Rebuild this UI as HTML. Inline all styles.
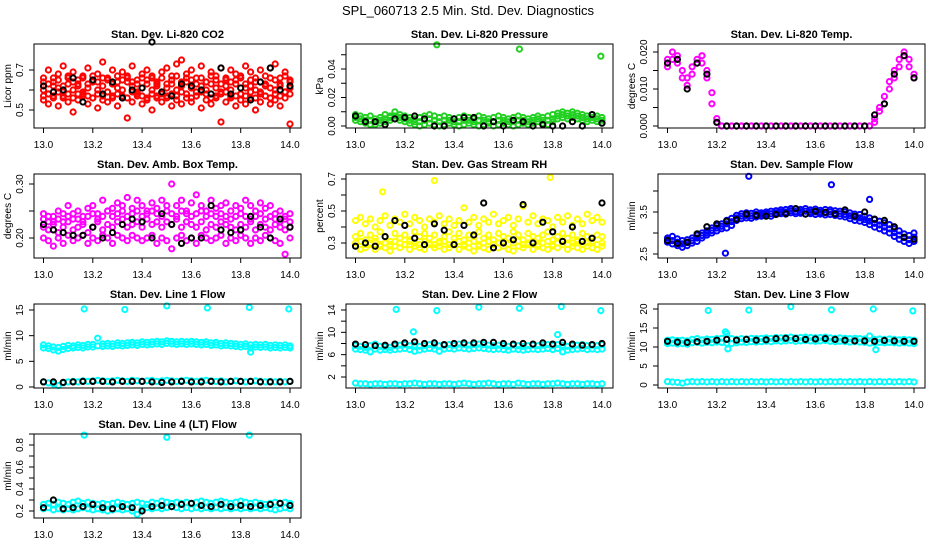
<!DOCTYPE html>
<html><head><meta charset="utf-8"><style>
html,body{margin:0;padding:0;background:#fff;}
svg{display:block;font-family:"Liberation Sans",sans-serif;}
</style></head><body>
<svg id="chart" width="936" height="540" viewBox="0 0 936 540" xmlns="http://www.w3.org/2000/svg">
<rect width="936" height="540" fill="#fff"/>
<text x="468" y="15" text-anchor="middle" font-size="13">SPL_060713  2.5 Min. Std. Dev. Diagnostics</text>
</svg>
<script>
const xGrid=[13.00,13.02,13.04,13.06,13.08,13.10,13.12,13.14,13.16,13.18,13.20,13.22,13.24,13.26,13.28,13.30,13.32,13.34,13.36,13.38,13.40,13.42,13.44,13.46,13.48,13.50,13.52,13.54,13.56,13.58,13.60,13.62,13.64,13.66,13.68,13.70,13.72,13.74,13.76,13.78,13.80,13.82,13.84,13.86,13.88,13.90,13.92,13.94,13.96,13.98,14.00];
const xBlack=[13.00,13.04,13.08,13.12,13.16,13.20,13.24,13.28,13.32,13.36,13.40,13.44,13.48,13.52,13.56,13.60,13.64,13.68,13.72,13.76,13.80,13.84,13.88,13.92,13.96,14.00];
const xTicks=[13.0,13.2,13.4,13.6,13.8,14.0];
const xTickLabels=["13.0","13.2","13.4","13.6","13.8","14.0"];

const co2A=[0.66,0.70,0.64,0.68,0.72,0.66,0.69,0.63,0.67,0.71,0.65,0.68,0.74,0.66,0.70,0.64,0.69,0.67,0.72,0.65,0.68,0.70,0.66,0.63,0.69,0.71,0.67,0.73,0.75,0.68,0.70,0.66,0.72,0.64,0.69,0.67,0.71,0.65,0.70,0.68,0.66,0.72,0.69,0.64,0.70,0.67,0.71,0.73,0.66,0.69,0.65];
const co2B=[0.60,0.58,0.62,0.61,0.59,0.63,0.60,0.62,0.58,0.61,0.64,0.60,0.62,0.59,0.63,0.61,0.60,0.64,0.62,0.59,0.61,0.63,0.60,0.62,0.58,0.61,0.63,0.60,0.62,0.64,0.61,0.59,0.62,0.60,0.63,0.61,0.59,0.62,0.60,0.63,0.58,0.61,0.62,0.60,0.59,0.63,0.61,0.60,0.62,0.59,0.61];
const co2C=[0.55,0.53,0.57,0.52,0.56,0.54,0.49,0.55,0.57,0.53,0.56,0.51,0.55,0.54,0.57,0.52,0.56,0.46,0.54,0.57,0.53,0.55,0.50,0.56,0.54,0.57,0.52,0.55,0.53,0.56,0.54,0.57,0.51,0.55,0.53,0.56,0.44,0.54,0.57,0.52,0.55,0.53,0.56,0.50,0.54,0.57,0.53,0.55,0.52,0.56,0.43];
const co2D=[0.64,0.63,0.66,0.65,0.62,0.67,0.64,0.65,0.66,0.63,0.67,0.64,0.66,0.65,0.63,0.67,0.65,0.66,0.64,0.63,0.66,0.65,0.67,0.64,0.66,0.63,0.65,0.67,0.64,0.66,0.65,0.63,0.66,0.64,0.67,0.65,0.63,0.66,0.64,0.65,0.67,0.63,0.65,0.66,0.64,0.62,0.66,0.65,0.63,0.67,0.64];
const co2E=[0.57,0.58,0.56,0.59,0.57,0.58,0.56,0.58,0.59,0.57,0.56,0.58,0.57,0.59,0.56,0.58,0.57,0.56,0.59,0.58,0.57,0.56,0.58,0.57,0.59,0.56,0.58,0.57,0.59,0.58,0.56,0.57,0.59,0.58,0.56,0.57,0.58,0.59,0.56,0.57,0.58,0.57,0.59,0.56,0.58,0.57,0.56,0.58,0.57,0.59,0.58];
const co2Black=[0.62,0.59,0.60,0.66,0.54,0.65,0.58,0.64,0.56,0.60,0.61,0.84,0.59,0.57,0.63,0.62,0.60,0.58,0.71,0.58,0.61,0.55,0.64,0.71,0.60,0.62];

const presA=[0.008,0.007,0.006,0.007,0.005,0.006,0.008,0.007,0.010,0.008,0.007,0.006,0.005,0.006,0.007,0.008,0.007,0.006,0.007,0.006,0.005,0.006,0.007,0.006,0.005,0.007,0.006,0.005,0.006,0.007,0.006,0.005,0.006,0.007,0.006,0.005,0.006,0.007,0.006,0.007,0.008,0.009,0.010,0.009,0.010,0.009,0.008,0.007,0.008,0.007,0.006];
const presB=[0.004,0.003,0.002,0.001,0.001,0.002,0.003,0.004,0.005,0.004,0.003,0.002,0.001,0.000,0.001,0.002,0.001,0.000,0.001,0.002,0.001,0.000,0.001,0.002,0.001,0.000,0.001,0.002,0.000,0.001,0.002,0.001,0.000,0.001,0.002,0.001,0.002,0.003,0.002,0.001,0.003,0.005,0.006,0.005,0.006,0.005,0.004,0.003,0.004,0.003,0.002];
const presC=[0.006,0.005,0.004,0.004,0.003,0.004,0.005,0.006,0.007,0.006,0.005,0.004,0.003,0.003,0.004,0.005,0.004,0.003,0.004,0.004,0.003,0.003,0.004,0.004,0.003,0.004,0.004,0.003,0.003,0.004,0.004,0.003,0.003,0.004,0.004,0.003,0.004,0.005,0.004,0.004,0.005,0.007,0.008,0.007,0.008,0.007,0.006,0.005,0.006,0.005,0.004];
const presBlack=[0.007,0.003,0.003,0.001,0.005,0.006,0.007,0.005,0.000,0.000,0.005,0.006,0.006,0.000,0.003,0.000,0.004,0.003,0.000,0.001,0.000,0.000,0.003,0.000,0.008,0.002];
const presOutX=[13.33,13.665,13.995];
const presOutY=[0.057,0.054,0.049];

const tempA=[0.018,0.020,0.019,0.015,0.013,0.014,0.017,0.019,0.015,0.006,0.001,0,0,0,0,0,0,0,0,0,0,0,0,0,0,0,0,0,0,0,0,0,0,0,0,0,0,0,0,0,0,0,0.001,0.004,0.008,0.012,0.015,0.018,0.019,0.016,0.014];
const tempB=[0.016,0.018,0.017,0.013,0.011,0.016,0.018,0.017,0.013,0.009,0.002,0,0,0,0,0,0,0,0,0,0,0,0,0,0,0,0,0,0,0,0,0,0,0,0,0,0,0,0,0,0,0,0.002,0.005,0.006,0.010,0.013,0.016,0.020,0.018,0.013];
const tempBlack=[0.017,0.018,0.010,0.017,0.014,0.001,0,0,0,0,0,0,0,0,0,0,0,0,0,0,0,0.003,0.006,0.014,0.019,0.013];

const ambA=[0.245,0.24,0.23,0.25,0.245,0.26,0.235,0.25,0.24,0.255,0.26,0.245,0.27,0.25,0.255,0.265,0.26,0.275,0.255,0.27,0.26,0.25,0.265,0.255,0.27,0.26,0.3,0.26,0.27,0.25,0.265,0.28,0.26,0.25,0.27,0.255,0.26,0.265,0.25,0.26,0.255,0.27,0.26,0.25,0.265,0.255,0.26,0.245,0.25,0.24,0.245];
const ambB=[0.22,0.215,0.225,0.21,0.22,0.23,0.215,0.22,0.225,0.21,0.22,0.23,0.215,0.225,0.22,0.23,0.235,0.22,0.225,0.23,0.22,0.235,0.225,0.23,0.22,0.23,0.225,0.235,0.22,0.23,0.225,0.22,0.23,0.215,0.225,0.22,0.23,0.225,0.22,0.215,0.225,0.22,0.23,0.215,0.225,0.22,0.215,0.225,0.22,0.215,0.22];
const ambC=[0.2,0.195,0.185,0.2,0.19,0.205,0.195,0.2,0.205,0.19,0.2,0.195,0.205,0.2,0.19,0.205,0.2,0.195,0.205,0.2,0.195,0.2,0.205,0.19,0.2,0.195,0.18,0.2,0.205,0.195,0.2,0.19,0.205,0.2,0.195,0.2,0.205,0.19,0.2,0.195,0.205,0.2,0.19,0.2,0.195,0.205,0.2,0.195,0.19,0.17,0.2];
const ambD=[0.235,0.23,0.24,0.235,0.23,0.24,0.245,0.235,0.23,0.24,0.245,0.235,0.24,0.25,0.24,0.245,0.25,0.24,0.245,0.25,0.24,0.245,0.25,0.245,0.24,0.25,0.245,0.24,0.25,0.245,0.24,0.245,0.25,0.24,0.245,0.24,0.245,0.24,0.235,0.24,0.245,0.24,0.235,0.24,0.245,0.235,0.24,0.235,0.23,0.235,0.23];
const ambBlack=[0.225,0.215,0.21,0.205,0.205,0.22,0.2,0.21,0.225,0.235,0.23,0.2,0.245,0.225,0.19,0.2,0.2,0.26,0.215,0.21,0.215,0.24,0.22,0.2,0.235,0.22];

const rhA=[0.44,0.46,0.42,0.45,0.40,0.44,0.47,0.41,0.45,0.43,0.48,0.42,0.46,0.44,0.40,0.45,0.43,0.47,0.42,0.45,0.41,0.44,0.52,0.43,0.46,0.41,0.45,0.43,0.48,0.42,0.44,0.46,0.41,0.45,0.53,0.43,0.47,0.42,0.45,0.44,0.40,0.46,0.43,0.47,0.41,0.45,0.42,0.48,0.44,0.46,0.43];
const rhB=[0.34,0.36,0.32,0.35,0.33,0.37,0.34,0.31,0.36,0.33,0.35,0.32,0.37,0.34,0.36,0.33,0.35,0.31,0.34,0.37,0.33,0.36,0.32,0.35,0.34,0.37,0.33,0.35,0.32,0.36,0.34,0.33,0.37,0.35,0.32,0.36,0.34,0.33,0.35,0.37,0.32,0.34,0.36,0.33,0.35,0.32,0.36,0.34,0.33,0.35,0.34];
const rhC=[0.28,0.26,0.27,0.29,0.26,0.28,0.27,0.25,0.28,0.27,0.29,0.26,0.28,0.27,0.26,0.29,0.27,0.28,0.26,0.27,0.29,0.26,0.28,0.27,0.25,0.28,0.27,0.26,0.29,0.27,0.28,0.26,0.25,0.28,0.27,0.29,0.26,0.28,0.27,0.26,0.28,0.27,0.29,0.26,0.28,0.27,0.26,0.28,0.27,0.26,0.28];
const rhD=[0.30,0.31,0.29,0.30,0.31,0.29,0.30,0.29,0.31,0.30,0.29,0.31,0.30,0.29,0.31,0.30,0.29,0.30,0.31,0.29,0.30,0.31,0.29,0.30,0.31,0.29,0.30,0.31,0.29,0.30,0.31,0.29,0.30,0.31,0.29,0.30,0.31,0.29,0.30,0.31,0.29,0.30,0.31,0.29,0.30,0.31,0.29,0.30,0.31,0.29,0.30];
const rhBlack=[0.28,0.30,0.28,0.34,0.44,0.41,0.33,0.29,0.42,0.38,0.29,0.41,0.35,0.55,0.27,0.30,0.32,0.54,0.30,0.43,0.37,0.31,0.40,0.31,0.33,0.55];
const rhOutX=[13.11,13.32,13.79];
const rhOutY=[0.62,0.69,0.71];

const flowA=[2.88,2.92,2.86,2.82,2.84,2.88,2.95,3.00,3.05,3.12,3.18,3.22,3.30,3.35,3.42,3.46,3.48,3.47,3.50,3.48,3.50,3.52,3.53,3.55,3.56,3.58,3.57,3.56,3.58,3.55,3.57,3.54,3.56,3.55,3.53,3.52,3.50,3.48,3.45,3.44,3.40,3.36,3.32,3.28,3.24,3.20,3.10,3.05,2.98,2.94,3.00];
const flowB=[2.78,2.74,2.70,2.66,2.70,2.76,2.80,2.88,2.95,3.00,3.05,3.10,3.12,3.18,3.30,3.34,3.36,3.35,3.38,3.40,3.42,3.40,3.44,3.46,3.45,3.48,3.46,3.47,3.45,3.46,3.44,3.45,3.43,3.44,3.42,3.40,3.38,3.34,3.30,3.28,3.25,3.20,3.14,3.10,3.05,3.00,2.92,2.85,2.80,2.75,2.80];
const flowC=[2.83,2.82,2.78,2.74,2.77,2.82,2.88,2.94,3.00,3.06,3.12,3.16,3.22,3.27,3.36,3.40,3.42,3.41,3.44,3.44,3.46,3.46,3.48,3.50,3.50,3.53,3.51,3.51,3.52,3.50,3.50,3.49,3.49,3.50,3.47,3.46,3.44,3.41,3.38,3.36,3.32,3.28,3.23,3.19,3.14,3.10,3.01,2.95,2.89,2.84,2.90];
const flowBlack=[2.82,2.75,2.78,2.98,3.15,3.22,3.28,3.32,3.45,3.42,3.40,3.44,3.46,3.58,3.45,3.52,3.49,3.45,3.55,3.40,3.50,3.33,3.30,3.15,2.90,2.85];
const flowOutX=[13.33,13.665,13.82,13.235];
const flowOutY=[4.35,4.15,3.80,2.52];

const l1A=[8.2,8.0,7.8,7.7,7.9,8.1,8.0,8.2,8.1,8.3,8.3,9.5,8.4,8.5,8.4,8.6,8.5,8.6,8.7,8.6,8.8,8.7,8.8,8.9,8.8,9.0,8.9,8.8,8.9,8.8,8.9,8.8,8.7,8.8,8.6,8.7,8.5,8.6,8.5,8.4,8.3,8.4,8.2,8.3,8.2,8.3,8.1,8.2,8.1,8.2,8.0];
const l1B=[7.6,7.5,7.2,7.0,7.3,7.5,7.6,7.7,7.6,7.8,7.8,8.0,7.9,8.0,7.9,8.1,8.0,8.1,8.2,8.1,8.3,8.2,8.3,8.4,8.3,8.5,8.4,8.3,8.4,8.3,8.4,8.3,8.2,8.3,8.1,8.2,8.0,8.1,8.0,7.9,7.8,7.9,7.6,7.8,7.7,7.8,7.6,7.7,7.6,7.7,7.6];
const l1C=[1.0,0.8,0.6,0.3,0.8,1.0,1.1,1.0,1.2,1.1,1.2,1.3,1.2,1.1,1.2,1.3,1.2,1.1,1.3,1.2,1.1,1.2,1.3,1.1,1.2,1.3,1.2,1.1,1.2,1.3,1.2,1.1,1.2,1.3,1.2,1.1,1.2,1.0,1.1,1.2,1.1,1.0,1.1,1.2,1.1,1.0,1.1,1.0,1.1,1.0,1.1];
const l1Black=[1.0,1.0,0.9,1.0,1.1,1.1,1.1,1.0,1.1,1.1,1.1,1.0,0.9,1.0,1.1,1.0,1.0,1.1,1.0,1.1,1.1,1.1,1.0,1.0,1.0,1.1];
const l1OutX=[13.165,13.33,13.5,13.665,13.835,13.995,13.84];
const l1OutY=[15.2,15.1,15.8,15.4,15.5,15.2,6.8];

const l2A=[7.6,7.5,7.3,7.6,7.9,7.5,7.4,7.3,7.6,7.7,7.8,7.6,7.7,7.5,7.6,7.8,7.7,7.6,7.7,7.8,7.7,7.9,7.8,7.7,7.8,7.9,7.8,7.7,7.6,7.7,7.6,7.5,7.7,7.6,7.5,7.6,7.7,7.6,7.7,7.8,7.6,7.8,7.7,7.5,7.6,7.7,7.8,7.6,7.7,7.6,7.8];
const l2B=[7.0,6.9,6.8,6.5,7.0,6.8,6.9,6.8,6.9,7.0,7.1,6.9,6.6,6.8,7.0,7.1,7.0,6.6,7.0,7.1,7.0,7.2,7.1,7.0,7.1,7.2,7.1,7.0,6.9,7.0,6.9,6.8,7.0,6.9,6.8,6.9,7.0,6.9,7.0,7.1,6.9,7.1,6.5,6.8,6.9,7.0,7.1,6.9,7.0,6.9,7.0];
const l2C=[0.9,0.8,0.8,0.7,0.8,0.8,0.7,0.8,0.8,0.7,0.8,0.8,0.9,0.8,0.7,0.8,0.8,0.7,0.8,0.8,0.7,0.8,0.9,0.8,0.7,0.8,0.8,0.9,0.8,0.7,0.8,0.8,0.7,0.9,0.8,0.7,0.8,0.8,0.7,0.8,0.8,0.9,0.8,0.7,0.8,0.8,0.7,0.8,0.8,0.7,0.8];
const l2Black=[7.9,7.8,7.6,7.7,7.9,8.1,8.3,8.0,8.1,7.8,8.0,8.1,8.1,8.2,8.2,8.0,7.9,8.0,7.9,8.1,7.9,8.2,7.9,7.7,7.8,8.0];
const l2OutX=[13.165,13.33,13.5,13.665,13.835,13.995,13.235,13.82];
const l2OutY=[14.1,13.9,14.5,14.3,14.6,13.9,10.1,9.6];

const l3A=[11.8,11.9,11.7,11.8,11.6,12.0,12.2,11.9,12.1,12.0,12.2,12.3,13.5,12.2,12.0,12.2,12.1,12.3,12.2,12.3,12.4,12.3,12.5,12.4,12.5,12.6,12.4,12.5,12.6,12.5,12.4,12.5,12.6,12.4,12.3,12.4,12.3,12.2,12.3,12.2,12.1,12.9,12.0,12.1,12.0,12.1,12.0,11.9,12.0,11.9,11.8];
const l3B=[10.9,11.0,10.8,10.9,10.7,11.1,11.2,11.0,11.2,11.1,11.3,11.2,11.0,10.9,11.1,11.3,11.2,11.4,11.3,11.4,11.5,11.4,11.6,11.5,11.6,11.7,11.5,11.6,11.7,11.6,11.5,11.6,11.7,11.5,11.4,11.5,11.4,11.3,11.4,11.3,11.2,11.0,11.1,11.2,11.1,11.2,11.1,11.0,11.1,11.0,10.9];
const l3C=[0.9,0.8,0.7,0.5,0.8,0.9,0.8,0.9,0.8,0.9,0.8,0.9,0.8,0.9,0.8,0.9,0.8,0.9,0.8,0.9,0.8,0.9,0.8,0.9,0.8,0.9,0.8,0.9,0.8,0.9,0.8,0.9,0.8,0.9,0.8,0.9,0.8,0.9,0.8,0.9,0.8,0.9,0.8,0.9,0.8,0.9,0.8,0.9,0.8,0.9,0.8];
const l3Black=[11.5,11.3,11.2,11.4,11.5,11.8,12.0,11.8,12.0,11.8,11.9,12.2,12.3,12.2,12.0,12.1,12.2,12.0,11.8,11.6,11.6,11.5,11.7,11.6,11.5,11.5];
const l3OutX=[13.165,13.33,13.5,13.665,13.835,13.995,13.235,13.245,13.845];
const l3OutY=[19.6,19.7,20.6,19.8,20.0,19.5,14.0,9.5,9.3];

const l4A=[0.26,0.27,0.26,0.28,0.27,0.26,0.28,0.29,0.27,0.28,0.27,0.26,0.27,0.26,0.27,0.28,0.27,0.26,0.27,0.28,0.27,0.26,0.28,0.27,0.29,0.28,0.27,0.28,0.27,0.28,0.27,0.28,0.29,0.28,0.27,0.28,0.29,0.28,0.27,0.28,0.29,0.28,0.27,0.28,0.27,0.26,0.27,0.28,0.27,0.28,0.27];
const l4B=[0.22,0.23,0.21,0.22,0.21,0.22,0.21,0.22,0.23,0.22,0.21,0.22,0.21,0.20,0.21,0.22,0.21,0.22,0.20,0.17,0.22,0.23,0.22,0.23,0.22,0.23,0.24,0.23,0.22,0.23,0.22,0.23,0.22,0.23,0.22,0.23,0.22,0.23,0.22,0.23,0.22,0.23,0.22,0.23,0.22,0.23,0.22,0.21,0.22,0.23,0.22];
const l4Black=[0.23,0.30,0.22,0.23,0.24,0.26,0.23,0.22,0.24,0.23,0.20,0.24,0.25,0.24,0.26,0.27,0.25,0.24,0.26,0.24,0.25,0.24,0.25,0.26,0.27,0.25];
const l4OutX=[13.165,13.5,13.835];
const l4OutY=[0.89,0.87,0.89];

const panels=[
 {name:'co2',col:0,row:0,title:'Stan. Dev. Li-820 CO2',ylab:'Licor ppm',v1:0.5,p1:110,v2:0.7,p2:70,ticks:[0.5,0.6,0.7],labels:['0.5','','0.7'],color:'#ff0000',series:[co2A,co2D,co2B,co2E,co2C],black:co2Black},
 {name:'pressure',col:1,row:0,title:'Stan. Dev. Li-820 Pressure',ylab:'kPa',v1:0,p1:126,v2:0.04,p2:69,ticks:[0,0.01,0.02,0.03,0.04,0.05],labels:['0.00','','0.02','','0.04',''],color:'#22d022',series:[presA,presC,presB],black:presBlack,ox:presOutX,oy:presOutY},
 {name:'temp',col:2,row:0,title:'Stan. Dev. Li-820 Temp.',ylab:'degrees C',v1:0,p1:126,v2:0.02,p2:52,ticks:[0,0.005,0.01,0.015,0.02],labels:['0.000','','0.010','','0.020'],color:'#ff00ff',series:[tempA,tempB],black:tempBlack},
 {name:'amb-box-temp',col:0,row:1,title:'Stan. Dev. Amb. Box Temp.',ylab:'degrees C',v1:0.2,p1:238,v2:0.3,p2:184,ticks:[0.2,0.25,0.3],labels:['0.20','','0.30'],color:'#ff00ff',series:[ambA,ambD,ambB,ambC],black:ambBlack},
 {name:'gas-stream-rh',col:1,row:1,title:'Stan. Dev. Gas Stream RH',ylab:'percent',v1:0.3,p1:243,v2:0.7,p2:179,ticks:[0.3,0.4,0.5,0.6,0.7],labels:['0.3','','0.5','','0.7'],color:'#ffff00',series:[rhA,rhB,rhD,rhC],black:rhBlack,ox:rhOutX,oy:rhOutY},
 {name:'sample-flow',col:2,row:1,title:'Stan. Dev. Sample Flow',ylab:'ml/min',v1:2.5,p1:254,v2:3.5,p2:212,ticks:[2.5,3,3.5,4],labels:['2.5','','3.5',''],color:'#0000ff',series:[flowA,flowC,flowB],black:flowBlack,ox:flowOutX,oy:flowOutY},
 {name:'line1-flow',col:0,row:2,title:'Stan. Dev. Line 1 Flow',ylab:'ml/min',v1:0,p1:387,v2:15,p2:310,ticks:[0,5,10,15],labels:['0','5','10','15'],color:'#00ffff',series:[l1A,l1B,l1C],black:l1Black,ox:l1OutX,oy:l1OutY},
 {name:'line2-flow',col:1,row:2,title:'Stan. Dev. Line 2 Flow',ylab:'ml/min',v1:2,p1:377,v2:14,p2:310,ticks:[2,4,6,8,10,12,14],labels:['2','','6','','10','','14'],color:'#00ffff',series:[l2A,l2B,l2C],black:l2Black,ox:l2OutX,oy:l2OutY},
 {name:'line3-flow',col:2,row:2,title:'Stan. Dev. Line 3 Flow',ylab:'ml/min',v1:0,p1:385,v2:20,p2:309,ticks:[0,5,10,15,20],labels:['0','5','10','15','20'],color:'#00ffff',series:[l3A,l3B,l3C],black:l3Black,ox:l3OutX,oy:l3OutY},
 {name:'line4-flow',col:0,row:3,title:'Stan. Dev. Line 4 (LT) Flow',ylab:'ml/min',v1:0.2,p1:511,v2:0.8,p2:445,ticks:[0.2,0.3,0.4,0.5,0.6,0.7,0.8,0.9],labels:['0.2','','0.4','','0.6','','0.8',''],color:'#00ffff',series:[l4A,l4B],black:l4Black,ox:l4OutX,oy:l4OutY}
];

const NS='http://www.w3.org/2000/svg';
const svg=document.getElementById('chart');
function mk(tag,attrs,parent){const e=document.createElementNS(NS,tag);for(const k in attrs)e.setAttribute(k,attrs[k]);parent.appendChild(e);return e;}

panels.forEach(p=>{
  const L=34+312*p.col, T=44+130*p.row, W=267, H=84, B=T+H;
  const xs=v=>L+9.5+(v-13)*246.5;
  const ys=v=>p.p1+(v-p.v1)*(p.p2-p.p1)/(p.v2-p.v1);
  const g=mk('g',{},svg);
  
  
  const pts=mk('g',{fill:'none','stroke-width':'2'},g);
  
  
  p.series.forEach((arr,si)=>{
    arr.forEach((v,i)=>{
      const c=mk('circle',{cx:xs(xGrid[i]).toFixed(1),cy:ys(v).toFixed(1),r:2.6,stroke:p.color},pts);
      
      
    });
  });
  if(p.ox){p.ox.forEach((xv,i)=>{
    const c=mk('circle',{cx:xs(xv).toFixed(1),cy:ys(p.oy[i]).toFixed(1),r:2.6,stroke:p.color},pts);
    
    
  });}
  p.black.forEach((v,i)=>{
    const c=mk('circle',{cx:xs(xBlack[i]).toFixed(1),cy:ys(v).toFixed(1),r:2.6,stroke:'#000'},pts);
    
    
  });
  const box=mk('rect',{x:L,y:T,width:W,height:H,fill:'none',stroke:'#000','stroke-width':'1'},g);
  
  
  const ti=mk('text',{x:L+W/2,y:T-6,'text-anchor':'middle','font-size':'11','font-weight':'bold'},g);
  ti.textContent=p.title;
  
  
  const xa=mk('g',{stroke:'#000','stroke-width':'1'},g);
  
  
  mk('line',{x1:xs(13),x2:xs(14),y1:B,y2:B},xa);
  xTicks.forEach((t,i)=>{
    mk('line',{x1:xs(t),x2:xs(t),y1:B,y2:B+5},xa);
    const tx=mk('text',{x:xs(t),y:B+20,'text-anchor':'middle','font-size':'10',stroke:'none',fill:'#000'},xa);
    tx.textContent=xTickLabels[i];
    
    
  });
  const ya=mk('g',{stroke:'#000','stroke-width':'1'},g);
  
  
  mk('line',{x1:L,x2:L,y1:ys(p.ticks[0]),y2:ys(p.ticks[p.ticks.length-1])},ya);
  p.ticks.forEach((t,i)=>{
    const y=ys(t);
    mk('line',{x1:L-5,x2:L,y1:y,y2:y},ya);
    if(p.labels[i]){
      const tx=mk('text',{x:L-11,y:y,'text-anchor':'middle','font-size':'10',stroke:'none',fill:'#000',transform:`rotate(-90 ${L-11} ${y})`},ya);
      tx.textContent=p.labels[i];
      
      
    }
  });
  const yl=mk('text',{x:L-23,y:T+H/2,'text-anchor':'middle','font-size':'10',transform:`rotate(-90 ${L-23} ${T+H/2})`},g);
  yl.textContent=p.ylab;
  
  
});
</script>
</body></html>
